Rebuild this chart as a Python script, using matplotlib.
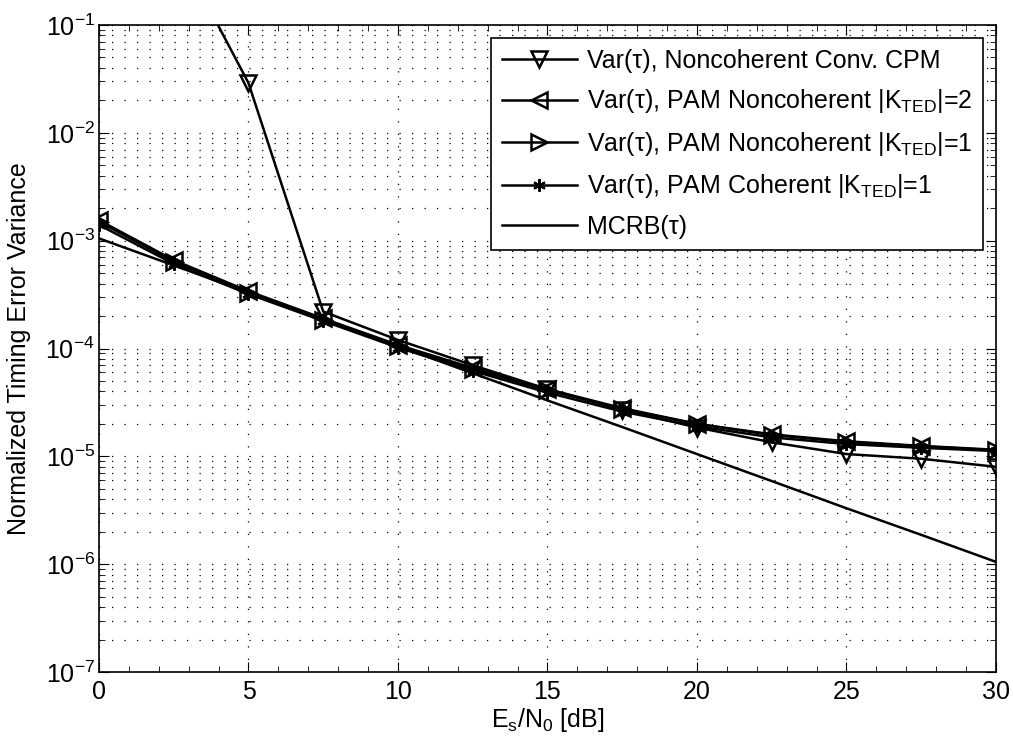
import numpy as np
import matplotlib
matplotlib.use('Agg')
import matplotlib.pyplot as plt
from matplotlib.ticker import MultipleLocator, LogLocator, NullFormatter

plt.rcParams['font.family'] = ['Liberation Sans', 'DejaVu Sans']
plt.rcParams['mathtext.fontset'] = 'custom'
plt.rcParams['mathtext.rm'] = 'Liberation Sans'
plt.rcParams['mathtext.it'] = 'Liberation Sans'

snr_db = [0, 2.5, 5, 7.5, 10, 12.5, 15, 17.5, 20, 22.5, 25, 27.5, 30]

var_cpm = [1.5, 0.6, 0.029, 2.2e-4, 1.2e-4, 7.0e-5, 4.2e-5, 2.7e-5, 1.85e-5, 1.35e-5, 1.05e-5, 9.5e-6, 8.0e-6]
var_pam_k2 = [1.55e-3, 6.6e-4, 3.4e-4, 1.9e-4, 1.08e-4, 6.6e-5, 4.2e-5, 2.8e-5, 2.0e-5, 1.6e-5, 1.38e-5, 1.25e-5, 1.15e-5]
var_pam_k1 = [1.5e-3, 6.4e-4, 3.3e-4, 1.85e-4, 1.05e-4, 6.4e-5, 4.1e-5, 2.75e-5, 2.0e-5, 1.58e-5, 1.36e-5, 1.24e-5, 1.14e-5]
var_pam_coh = [1.4e-3, 6.1e-4, 3.2e-4, 1.8e-4, 1.02e-4, 6.2e-5, 3.9e-5, 2.6e-5, 1.9e-5, 1.5e-5, 1.3e-5, 1.2e-5, 1.12e-5]
mcrb = [1.05e-3, 5.9e-4, 3.3e-4, 1.87e-4, 1.05e-4, 5.9e-5, 3.3e-5, 1.87e-5, 1.05e-5, 5.9e-6, 3.3e-6, 1.87e-6, 1.05e-6]

labels = ['Var(τ), Noncoherent Conv. CPM',
          r'Var(τ), PAM Noncoherent |K$_\mathregular{TED}$|=2',
          r'Var(τ), PAM Noncoherent |K$_\mathregular{TED}$|=1',
          r'Var(τ), PAM Coherent |K$_\mathregular{TED}$|=1',
          'MCRB(τ)']

FS = 18

fig = plt.figure(figsize=(10.13, 7.49), dpi=100)
ax = fig.add_axes([0.0977, 0.1028, 0.8855, 0.8638])

ax.semilogy(snr_db, var_cpm, 'k-v', lw=1.8, ms=12, mfc='none', mew=1.8, label=labels[0])
ax.semilogy(snr_db, var_pam_k2, 'k-<', lw=1.8, ms=12, mfc='none', mew=1.8, label=labels[1])
ax.semilogy(snr_db, var_pam_k1, 'k->', lw=1.8, ms=12, mfc='none', mew=1.8, label=labels[2])
ax.semilogy(snr_db, var_pam_coh, 'k-', marker=(6, 2, 0), lw=1.8, ms=9, mew=1.5, label=labels[3])
ax.semilogy(snr_db, mcrb, 'k-', lw=1.8, label=labels[4])

ax.set_xlim(0, 30)
ax.set_ylim(1e-7, 1e-1)
ax.xaxis.set_major_locator(MultipleLocator(5))
ax.xaxis.set_minor_locator(MultipleLocator(1))
ax.yaxis.set_major_locator(LogLocator(base=10, numticks=10))
ax.yaxis.set_minor_locator(LogLocator(base=10, subs=np.arange(2, 10), numticks=20))
ax.yaxis.set_minor_formatter(NullFormatter())
ax.xaxis.offsetText.set_visible(False)
ax.yaxis.offsetText.set_visible(False)

ax.tick_params(which='both', direction='in', top=True, right=True, labelsize=FS)
ax.tick_params(which='major', length=7)
ax.tick_params(which='minor', length=4)
ax.tick_params(axis='x', pad=6)
ax.tick_params(axis='y', pad=3)

dots = (0, (1, 9))
ax.grid(True, which='major', axis='x', linestyle=dots, color='k', linewidth=0.9)
ax.grid(True, which='both', axis='y', linestyle=dots, color='k', linewidth=0.9)

ax.set_xlabel(r'$\mathregular{E_s/N_0}$ [dB]', fontsize=FS, labelpad=1)
ax.set_ylabel('Normalized Timing Error Variance', fontsize=FS)
ax.yaxis.set_label_coords(-0.076, 0.5)

leg = ax.legend(loc='upper right', fontsize=FS, fancybox=False, framealpha=1,
                edgecolor='k', handlelength=3.0, handletextpad=0.4,
                borderaxespad=0.5, labelspacing=0.58, borderpad=0.45)
leg.get_frame().set_linewidth(1.2)

for s in ax.spines.values():
    s.set_linewidth(1.2)

fig.savefig('out.png', dpi=100)
